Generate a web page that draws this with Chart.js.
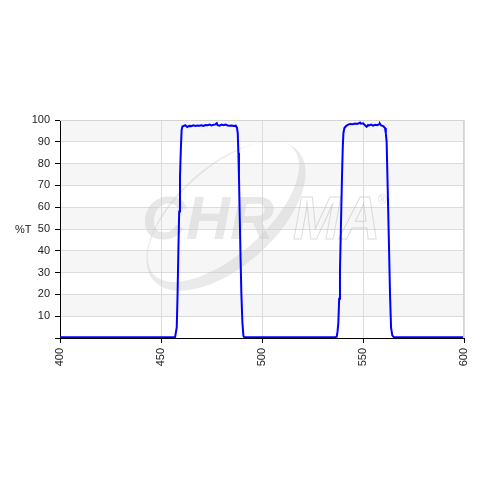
<!DOCTYPE html>
<html>
<head>
<meta charset="utf-8">
<script src="https://cdn.jsdelivr.net/npm/chart.js@4/dist/chart.umd.min.js"></script>
<style>
html,body{margin:0;padding:0;background:#fff;}
#c{display:block;}
</style>
</head>
<body>
<canvas id="c" width="480" height="480"></canvas>
<script>
// Wavelength (nm)
const wavelengths = [400,456,457,457.8,458.2,458.6,459.0,459.4,459.8,460.2,460.6,461,462,463,464,465,466,467,468,469,470,471,472,473,474,475,476,477,477.6,478,479,480,481,482,483,484,485,486,487,487.6,488,488.3,488.6,489,489.4,489.8,490.3,490.8,491.2,536,537,537.4,537.8,538.2,538.6,539,539.6,540,540.3,540.8,541.6,542.5,543.6,545,546,547,548,548.5,549,550,551,551.8,552.5,553,554,555,556,557,558,558.4,559,560,560.9,561.3,561.7,562.2,562.8,563.4,563.9,564.5,565.3,600];
// Transmission (%T)
const transmission = [0.3,0.3,0.5,5,20,40,58,74,86,95.4,97,97.2,97.6,96.8,97.3,97.2,97.6,97.3,97.5,97.4,97.6,97.3,97.7,97.6,97.9,97.5,97.8,98.0,98.5,97.6,97.4,97.9,97.6,97.9,97.5,97.4,97.5,97.3,97.4,96.5,94,85,74,55,36,20,7,1,0.3,0.3,0.6,3,7,18,31,48,74,88,94,96.3,97.2,97.8,98.2,98.1,98.4,98.2,98.5,98.8,98.3,98.5,97.6,96.9,97.7,97.5,97.9,97.4,97.8,97.6,98.0,98.3,97.5,97.2,96.3,94,90,70,45,19,4.6,1.2,0.3,0.3];
const xTicks = [400,450,500,550,600];
const yTicks = [10,20,30,40,50,60,70,80,90,100];
const yTitle = '%T';
const watermarkFilled = 'CHR';
const watermarkOutline = 'MA';

const points = wavelengths.map((w,i)=>({x:w,y:transmission[i]}));

const decor = {
  id:'decor',
  beforeDraw(chart){
    const {ctx, chartArea:a, scales:{y}} = chart;
    ctx.save();
    ctx.fillStyle='#ffffff';
    ctx.fillRect(0,0,chart.width,chart.height);
    ctx.fillStyle='#f6f6f6';
    for(let v=90; v>=10; v-=20){
      const t=y.getPixelForValue(v+10), b=y.getPixelForValue(v);
      ctx.fillRect(a.left,t,a.right-a.left,b-t);
    }
    ctx.restore();
  },
  beforeDatasetsDraw(chart){
    const {ctx, chartArea:a} = chart;
    ctx.save();
    ctx.beginPath();
    ctx.rect(a.left,a.top,a.right-a.left,a.bottom-a.top);
    ctx.clip();
    // swoosh (crescent)
    ctx.save();
    ctx.translate(226,216);
    ctx.rotate(-0.73);
    ctx.beginPath();
    ctx.ellipse(0,0,97,50,0,0,2*Math.PI);
    ctx.moveTo(1+94,-5);
    ctx.ellipse(1,-5,94,43,0,0,2*Math.PI);
    ctx.fillStyle='rgba(200,200,200,0.38)';
    ctx.fill('evenodd');
    ctx.restore();
    ctx.font='italic bold 61px "Liberation Sans", Arial, sans-serif';
    ctx.textBaseline='alphabetic';
    ctx.fillStyle='rgba(205,205,205,0.45)';
    ctx.fillText(watermarkFilled,142,239);
    ctx.save();
    ctx.translate(293,239);
    ctx.scale(0.92,1);
    ctx.strokeStyle='rgba(190,190,190,0.55)';
    ctx.lineWidth=1;
    ctx.strokeText(watermarkOutline,0,0);
    ctx.restore();
    ctx.font='12px "Liberation Sans", Arial, sans-serif';
    ctx.fillStyle='rgba(200,200,200,0.6)';
    ctx.fillText('®',378,204);
    ctx.restore();
  },
  afterDraw(chart){
    const {ctx, chartArea:a} = chart;
    ctx.save();
    ctx.strokeStyle='#d4d4d4';
    ctx.lineWidth=1;
    ctx.beginPath();
    ctx.moveTo(a.left,a.top+0.5);
    ctx.lineTo(a.right-0.5,a.top+0.5);
    ctx.lineTo(a.right-0.5,a.bottom);
    ctx.stroke();
    ctx.fillStyle='#222';
    ctx.font='11px "Liberation Sans", Arial, sans-serif';
    ctx.textAlign='left';
    ctx.textBaseline='middle';
    ctx.fillText(yTitle,15,230);
    ctx.restore();
  }
};

new Chart(document.getElementById('c'),{
  type:'line',
  data:{datasets:[{
    data:points,
    borderColor:'#0000ff',
    borderWidth:2,
    pointRadius:0,
    tension:0,
    fill:false
  }]},
  options:{
    responsive:false,
    animation:false,
    events:[],
    layout:{padding:{top:120,right:16,bottom:0,left:0}},
    plugins:{legend:{display:false},tooltip:{enabled:false}},
    scales:{
      x:{
        type:'linear',min:400,max:600,
        afterBuildTicks(s){s.ticks=xTicks.map(v=>({value:v}));},
        afterFit(s){s.height=142;s.paddingLeft=0;s.paddingRight=0;},
        grid:{color:'#dcdcdc',tickColor:'#000',tickLength:5,lineWidth:1},
        border:{color:'#000',width:1},
        ticks:{minRotation:90,maxRotation:90,padding:5,color:'#222',
          font:{family:'"Liberation Sans", Arial, sans-serif',size:11}}
      },
      y:{
        min:0,max:100,
        afterBuildTicks(s){s.ticks=[0].concat(yTicks).map(v=>({value:v}));},
        afterFit(s){s.width=60;s.paddingTop=0;s.paddingBottom=0;},
        grid:{color:'#dcdcdc',tickColor:'#000',tickLength:5,lineWidth:1},
        border:{color:'#000',width:1},
        ticks:{padding:5,color:'#222',callback:(v)=>v===0?'':String(v),
          font:{family:'"Liberation Sans", Arial, sans-serif',size:11}}
      }
    }
  },
  plugins:[decor]
});
</script>
</body>
</html>
